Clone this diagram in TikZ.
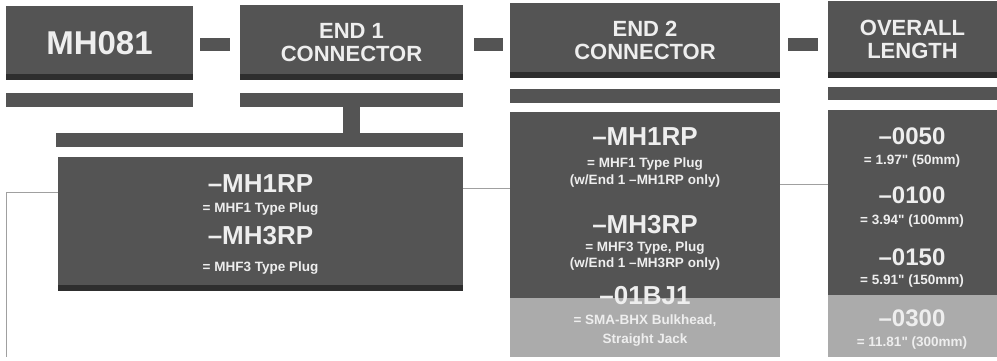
\documentclass[tikz,border=0pt]{standalone}
\usepackage{fontspec}
\setmainfont{Liberation Sans}[Ligatures=TeXOff]
\definecolor{boxdark}{HTML}{545454}
\definecolor{boxshadow}{HTML}{2E2E2E}
\definecolor{boxlight}{HTML}{ABABAB}
\definecolor{txt}{HTML}{EEEEEE}
\definecolor{linegray}{HTML}{A0A0A0}
\tikzset{
  dk/.style={fill=boxdark, draw=none, inner sep=0pt},
  shadowed/.style={path picture={\fill[boxshadow] (path picture bounding box.south west) rectangle ([yshift=6pt]path picture bounding box.south east);}},
  hdr/.style={text=txt, font=\bfseries\fontsize{22}{23}\selectfont, align=center},
  bigtxt/.style={text=txt, font=\bfseries\fontsize{26}{26}\selectfont, inner sep=0pt},
  numtxt/.style={text=txt, font=\bfseries\fontsize{24}{24}\selectfont, inner sep=0pt},
  subtxt/.style={text=txt, font=\bfseries\fontsize{13.5}{14}\selectfont, inner sep=0pt},
  thinline/.style={draw=linegray, line width=0.9pt}
}
\begin{document}
\begin{tikzpicture}[x=1pt, y=-1pt]
\useasboundingbox[fill=white] (0,0) rectangle (997,360);

% header boxes
\node[dk, shadowed, minimum width=187pt, minimum height=74pt, text=txt, font=\bfseries\fontsize{33}{33}\selectfont] (mh) at (99.5,43) {MH081};
\node[dk, shadowed, minimum width=223pt, minimum height=75pt, hdr] (e1) at (351.5,42.5) {END 1\\CONNECTOR};
\node[dk, shadowed, minimum width=270pt, minimum height=75pt, hdr] (e2) at (645,40.5) {END 2\\CONNECTOR};
\node[dk, shadowed, minimum width=169pt, minimum height=77pt, hdr] (ol) at (912.5,39.5) {OVERALL\\LENGTH};

% dashes
\node[dk, minimum width=30pt, minimum height=13pt] (d1) at (215,44) {};
\node[dk, minimum width=29pt, minimum height=13pt] (d2) at (488,44) {};
\node[dk, minimum width=30pt, minimum height=13pt] (d3) at (803,44) {};

% bars
\node[dk, minimum width=187pt, minimum height=14pt] (b1) at (99.5,100) {};
\node[dk, minimum width=223pt, minimum height=14pt] (b2) at (351.5,100) {};
\node[dk, minimum width=270pt, minimum height=14pt] (b3) at (645,96) {};
\node[dk, minimum width=169pt, minimum height=13pt] (b4) at (912.5,93.5) {};
\node[dk, minimum width=17pt, minimum height=27pt] (stem) at (351.5,120) {};
\node[dk, minimum width=407pt, minimum height=14pt] (hb) at (259.5,140) {};

% END 1 options box
\node[dk, shadowed, minimum width=405pt, minimum height=134pt] (opt1) at (260.5,224) {};
\node[bigtxt] (o1a) at (260.5,184) {–MH1RP};
\node[subtxt] (o1b) at (260.5,209) {= MHF1 Type Plug};
\node[bigtxt] (o1c) at (260.5,236) {–MH3RP};
\node[subtxt] (o1d) at (260.5,268) {= MHF3 Type Plug};

% END 2 options box
\node[dk, minimum width=270pt, minimum height=245pt] (opt2) at (645,234.5) {};
\fill[boxlight] (opt2.south west) rectangle ([yshift=59pt]opt2.south east);
\node[bigtxt] (o2a) at (645,137) {–MH1RP};
\node[subtxt] (o2b) at (645,164) {= MHF1 Type Plug};
\node[subtxt] (o2c) at (645,181) {(w/End 1 –MH1RP only)};
\node[bigtxt] (o2d) at (645,225) {–MH3RP};
\node[subtxt] (o2e) at (645,248) {= MHF3 Type, Plug};
\node[subtxt] (o2f) at (645,264) {(w/End 1 –MH3RP only)};
\node[bigtxt] (o2g) at (645,296) {–01BJ1};
\node[subtxt] (o2h) at (645,321) {= SMA-BHX Bulkhead,};
\node[subtxt] (o2i) at (645,340) {Straight Jack};

% overall length box
\node[dk, minimum width=169pt, minimum height=247pt] (opt3) at (912.5,233.5) {};
\fill[boxlight] (opt3.south west) rectangle ([yshift=62pt]opt3.south east);
\node[numtxt] (o3a) at (912,136) {–0050};
\node[subtxt] (o3b) at (912,161) {= 1.97" (50mm)};
\node[numtxt] (o3c) at (912,195) {–0100};
\node[subtxt] (o3d) at (912,221) {= 3.94" (100mm)};
\node[numtxt] (o3e) at (912,257) {–0150};
\node[subtxt] (o3f) at (912,281) {= 5.91" (150mm)};
\node[numtxt] (o3g) at (912,318) {–0300};
\node[subtxt] (o3h) at (912,343) {= 11.81" (300mm)};

% thin connectors
\coordinate (lc) at (6,357);
\draw[thinline] ([yshift=32pt]opt1.west) -| (lc);
\draw[thinline] ([yshift=36pt]opt1.east) -- ([yshift=36pt]opt1.east -| opt2.west);
\draw[thinline] ([yshift=50.5pt]opt2.east) -- ([yshift=50.5pt]opt2.east -| opt3.west);
\end{tikzpicture}
\end{document}
